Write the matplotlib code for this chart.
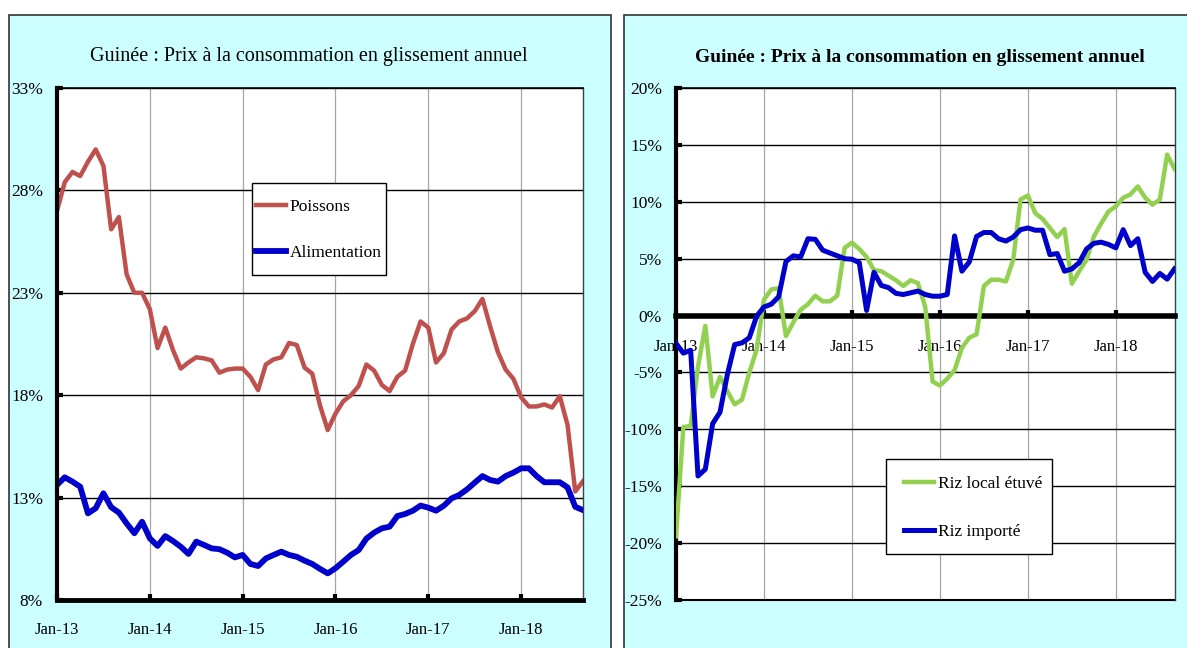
import matplotlib

matplotlib.use("Agg")
import matplotlib.pyplot as plt
import matplotlib.patches as mpatches
import matplotlib.ticker as mticker
import matplotlib.transforms as mtransforms
import numpy as np

# monthly data, Jan-13 .. Sep-18 (69 months)
months = np.arange(69)
year_ticks = [0, 12, 24, 36, 48, 60]
year_labels = ["Jan-13", "Jan-14", "Jan-15", "Jan-16", "Jan-17", "Jan-18"]

poissons = [
    27.0, 28.4, 28.9, 28.7, 29.4, 30.0, 29.2, 26.1, 26.7, 23.9,
    23.0, 23.0, 22.2, 20.3, 21.3, 20.2, 19.3, 19.6, 19.85, 19.8,
    19.7, 19.1, 19.25, 19.3, 19.3, 18.9, 18.25, 19.5, 19.75, 19.85,
    20.55, 20.45, 19.35, 19.05, 17.5, 16.3, 17.1, 17.7, 18.0, 18.45,
    19.5, 19.2, 18.5, 18.2, 18.9, 19.2, 20.5, 21.6, 21.3, 19.6,
    20.05, 21.2, 21.6, 21.75, 22.1, 22.7, 21.35, 20.1, 19.25, 18.8,
    17.9, 17.45, 17.45, 17.55, 17.4, 17.95, 16.55, 13.3, 13.8,
]
alimentation = [
    13.62, 13.99, 13.78, 13.53, 12.23, 12.48, 13.21, 12.53, 12.27, 11.74,
    11.26, 11.82, 11.01, 10.64, 11.12, 10.88, 10.6, 10.25, 10.85, 10.69,
    10.52, 10.48, 10.31, 10.08, 10.2, 9.76, 9.66, 10.03, 10.2, 10.36,
    10.2, 10.11, 9.92, 9.76, 9.52, 9.3, 9.55, 9.87, 10.2, 10.44,
    11.0, 11.29, 11.5, 11.58, 12.1, 12.2, 12.36, 12.61, 12.51, 12.36,
    12.6, 12.96, 13.13, 13.4, 13.73, 14.05, 13.86, 13.78, 14.05, 14.22,
    14.43, 14.43, 14.05, 13.75, 13.75, 13.75, 13.5, 12.55, 12.39,
]
riz_local = [
    -19.4, -9.8, -9.7, -4.5, -0.9, -7.1, -5.4, -6.65, -7.8, -7.4,
    -5.0, -3.0, 1.4, 2.3, 2.4, -1.8, -0.6, 0.5, 1.0, 1.75,
    1.25, 1.25, 1.75, 5.95, 6.4, 5.85, 5.15, 4.0, 3.9, 3.5,
    3.1, 2.6, 3.1, 2.85, 0.75, -5.8, -6.15, -5.55, -4.8, -2.85,
    -1.95, -1.65, 2.6, 3.15, 3.15, 3.0, 4.9, 10.2, 10.55, 9.0,
    8.5, 7.7, 6.9, 7.6, 2.8, 3.9, 4.9, 6.95, 8.1, 9.15,
    9.6, 10.35, 10.65, 11.35, 10.35, 9.75, 10.2, 14.15, 12.9,
]
riz_importe = [
    -2.45, -3.3, -3.05, -14.1, -13.5, -9.5, -8.5, -5.2, -2.55, -2.4,
    -1.95, -0.05, 0.75, 1.0, 1.65, 4.75, 5.25, 5.15, 6.75, 6.7,
    5.75, 5.5, 5.25, 5.0, 4.95, 4.65, 0.45, 3.8, 2.65, 2.45,
    1.95, 1.85, 2.0, 2.15, 1.85, 1.7, 1.7, 1.85, 7.0, 3.9,
    4.7, 6.95, 7.3, 7.3, 6.75, 6.55, 6.9, 7.55, 7.7, 7.5,
    7.5, 5.35, 5.45, 3.9, 4.1, 4.65, 5.85, 6.35, 6.45, 6.25,
    5.95, 7.55, 6.15, 6.75, 3.8, 3.0, 3.7, 3.2, 4.1,
]

title = "Guinée : Prix à la consommation en glissement annuel"

plt.rcParams["font.family"] = ["Liberation Serif", "DejaVu Serif"]

W, H = 1187, 648
fig = plt.figure(figsize=(W / 100, H / 100), dpi=100)
fig.patch.set_facecolor("white")


def px_rect(x0, y0, x1, y1):
    return [x0 / W, 1 - y1 / H, (x1 - x0) / W, (y1 - y0) / H]


# cyan chart panels
for x0, x1 in [(9, 611), (624, 1220)]:
    fig.patches.append(
        mpatches.Rectangle(
            (x0 / W, -0.1), (x1 - x0) / W, 1.1 - 15 / H,
            transform=fig.transFigure, facecolor="#ccffff",
            edgecolor="#333333", lw=1.2, zorder=-1,
        )
    )


def style_axes(ax, ymin, ymax, step):
    ax.set_facecolor("white")
    ax.set_xlim(0, 68)
    ax.set_ylim(ymin, ymax)
    ax.set_yticks(np.arange(ymin, ymax + 1, step))
    ax.yaxis.set_major_formatter(mticker.FuncFormatter(lambda v, _: f"{v:.0f}%"))
    ax.set_xticks(year_ticks)
    ax.set_xticklabels(year_labels)
    ax.grid(axis="y", color="black", lw=1.0)
    ax.grid(axis="x", color="#a6a6a6", lw=0.9)
    ax.set_axisbelow(True)
    ax.spines["left"].set_linewidth(3)
    ax.spines["bottom"].set_linewidth(3.5)
    ax.spines["top"].set_linewidth(1.2)
    ax.spines["right"].set_linewidth(1.0)
    ax.spines["right"].set_color("#404040")
    ax.tick_params(axis="both", direction="in", length=4, width=3, color="black")
    ax.tick_params(axis="y", pad=10, labelsize=12.5)


def boxed_legend(ax, anchor, spacing, pads):
    leg = ax.legend(
        loc="upper left", bbox_to_anchor=(anchor[0] / W, 1 - anchor[1] / H),
        bbox_transform=fig.transFigure, frameon=False, borderpad=0,
        borderaxespad=0, handlelength=1.7, handletextpad=0.25,
        labelspacing=spacing, fontsize=12.5,
    )
    leg.set_zorder(6)
    fig.canvas.draw()
    bb = leg.get_window_extent()
    left, right, top, bottom = pads
    ax.add_patch(
        mpatches.Rectangle(
            (bb.x0 - left, bb.y0 - bottom), bb.width + left + right,
            bb.height + top + bottom, transform=mtransforms.IdentityTransform(),
            facecolor="white", edgecolor="black", lw=1.0, zorder=5, clip_on=False,
        )
    )


# left chart
ax1 = fig.add_axes(px_rect(57, 88, 583, 600))
style_axes(ax1, 8, 33, 5)
ax1.tick_params(axis="x", pad=16, labelsize=12)
ax1.plot(months, poissons, color="#c0504d", lw=3.2, label="Poissons")
ax1.plot(months, alimentation, color="#0000cc", lw=4.2, label="Alimentation")
fig.text(308.5 / W, 1 - 57 / H, title, ha="center", va="center", fontsize=14.5)

# right chart
ax2 = fig.add_axes(px_rect(676, 88, 1174.5, 600))
style_axes(ax2, -25, 20, 5)
ax2.spines["bottom"].set_position(("data", 0))
ax2.spines["bottom"].set_linewidth(4)
ax2.axhline(-25, color="black", lw=1.5, clip_on=False)
ax2.tick_params(axis="x", pad=17, labelsize=12)
ax2.plot(months, riz_local, color="#92d050", lw=3.2, label="Riz local étuvé", zorder=3)
ax2.plot(months, riz_importe, color="#0000cc", lw=3.6, label="Riz importé", zorder=3)
fig.text(919.5 / W, 1 - 57 / H, title, ha="center", va="center",
         fontsize=14, fontweight="bold")

boxed_legend(ax1, (256, 199), 1.7, (4, 4, 16, 14))
boxed_legend(ax2, (904, 476), 1.85, (18, 10, 17, 14))

fig.savefig("out.png", dpi=100)
